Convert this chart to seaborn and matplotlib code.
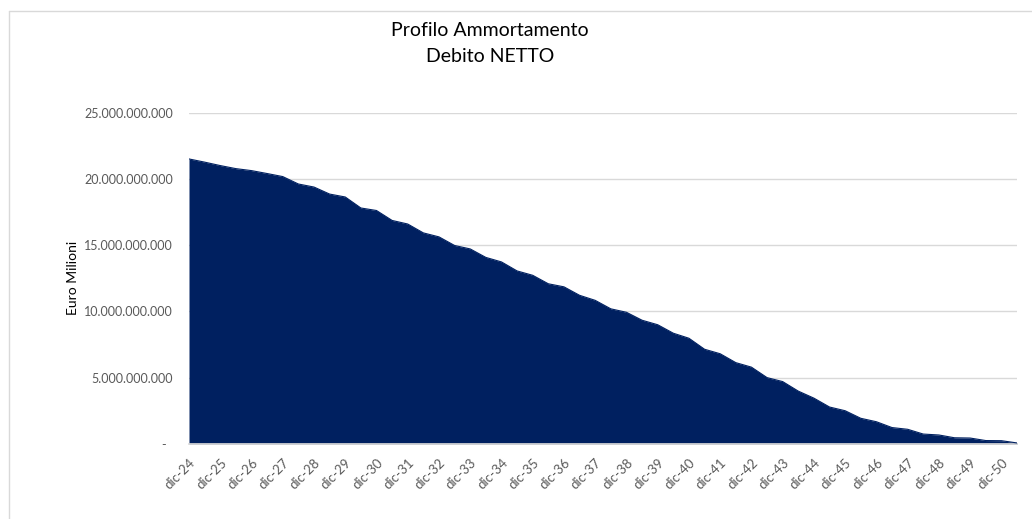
import numpy as np
import pandas as pd
import matplotlib
matplotlib.use("Agg")
import matplotlib.pyplot as plt
import seaborn as sns
from matplotlib.lines import Line2D
from matplotlib.ticker import FuncFormatter

# --- Data (semiannual residual net debt, in euro) ---
years = list(range(24, 52))
periods = []
for y in years:
    if y > 24:
        periods.append(f"giu-{y}")
    if y < 51:
        periods.append(f"dic-{y}")

debt_bn = [
    21.51, 21.27, 21.01, 20.78, 20.63, 20.41, 20.18, 19.62, 19.39, 18.86,
    18.64, 17.81, 17.62, 16.87, 16.60, 15.93, 15.63, 14.98, 14.72, 14.08,
    13.74, 13.06, 12.73, 12.09, 11.86, 11.22, 10.84, 10.20, 9.94, 9.34,
    9.00, 8.36, 7.98, 7.15, 6.81, 6.14, 5.80, 5.01, 4.71, 3.99,
    3.46, 2.79, 2.51, 1.94, 1.68, 1.24, 1.11, 0.75, 0.68, 0.47,
    0.45, 0.26, 0.25, 0.08,
]
y_ticks = [0, 5e9, 10e9, 15e9, 20e9, 25e9]

df = pd.DataFrame({"periodo": periods, "debito": np.array(debt_bn) * 1e9})
df["pos"] = range(len(df))

navy = "#002060"

sns.set_theme(style="white")
plt.rcParams["font.family"] = ["Lato", "DejaVu Sans"]

fig = plt.figure(figsize=(10.32, 5.19), dpi=100)
ax = fig.add_axes([189 / 1032, 75 / 519, 828 / 1032, 331.3 / 519])

ax.fill_between(df["pos"], df["debito"], 0, color=navy, linewidth=0, zorder=2)
sns.lineplot(data=df, x="pos", y="debito", color=navy, linewidth=0.8, ax=ax, zorder=3)

ax.set_xlim(0, len(df) - 1)
ax.set_ylim(0, 25e9)
ax.set_yticks(y_ticks)


def fmt_it(v, _):
    if v == 0:
        return "-  "
    return f"{int(v):,}".replace(",", ".")


ax.yaxis.set_major_formatter(FuncFormatter(fmt_it))
ax.set_xticks(df["pos"][::2])
ax.set_xticklabels(df["periodo"][::2], rotation=45, ha="right", rotation_mode="anchor")

ax.tick_params(axis="y", labelsize=9, labelcolor="#595959", length=0, pad=11.5)
ax.tick_params(axis="x", labelsize=9.5, labelcolor="#595959", length=0, pad=9)
ax.grid(axis="y", color="#D9D9D9", linewidth=1, zorder=0)
ax.grid(axis="x", visible=False)
ax.set_axisbelow(True)
for side in ["top", "right", "left"]:
    ax.spines[side].set_visible(False)
ax.spines["bottom"].set_color("#D9D9D9")

ax.set_xlabel("")
ax.set_ylabel("Euro Milioni", fontsize=10, color="black")
ax.yaxis.set_label_coords(-110 / 828, 0.5)

fig.text(490 / 1032, 1 - 30 / 519, "Profilo Ammortamento", ha="center", va="center", fontsize=14, color="black")
fig.text(490 / 1032, 1 - 56 / 519, "Debito NETTO", ha="center", va="center", fontsize=14, color="black")

# chart area border
fig.add_artist(Line2D([9 / 1032, 9 / 1032], [0, 1 - 11 / 519], color="#D9D9D9", linewidth=1, transform=fig.transFigure))
fig.add_artist(Line2D([9 / 1032, 1], [1 - 11 / 519, 1 - 11 / 519], color="#D9D9D9", linewidth=1, transform=fig.transFigure))

fig.savefig("out.png", dpi=100)
